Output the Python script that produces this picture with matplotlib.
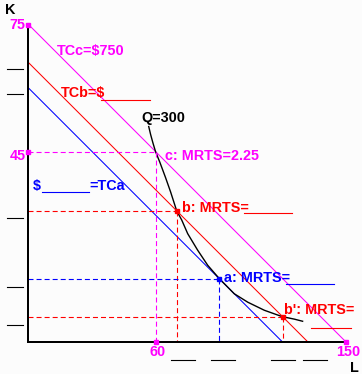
import matplotlib
matplotlib.use("Agg")
import matplotlib.pyplot as plt
from matplotlib.lines import Line2D

plt.rcParams['font.family'] = ['Liberation Sans', 'DejaVu Sans']
plt.rcParams['lines.scale_dashes'] = False

# ---------------- data ----------------
L_MAX, K_MAX = 150, 75
# budget (isocost) lines: (K intercept, L intercept)
tc_names = ["TCa", "TCb", "TCc"]
tc_k_int = [60, 66, 75]
tc_l_int = [120, 132, 150]

# isoquant Q=300
iso_L = [56.8, 57.7, 58.8, 60.0, 62.1, 64.7, 67.1, 70.0, 72.4, 75.2, 79.9,
         84.7, 90.1, 97.2, 103.6, 111.4, 119.8, 125.6, 129.5]
iso_K = [50.9, 49.0, 47.0, 45.0, 42.4, 38.9, 35.5, 31.0, 28.8, 25.6, 21.7,
         18.1, 15.0, 11.4, 9.4, 7.5, 6.0, 5.4, 4.9]

# labelled points
pt_names = ["c", "b", "a", "b'"]
pt_L = [60, 70, 90, 120]
pt_K = [45, 31, 15, 6]

axis_marks_L = [60, 150]
axis_marks_K = [45, 75]

# ---------------- style ----------------
MAG, RED, BLUE, BLK = '#ff00ff', '#ff0000', '#0000ff', '#000000'
tc_colors = [BLUE, RED, MAG]
pt_colors = [MAG, RED, BLUE, RED]
W, H = 362, 374
FS = 10.4

fig = plt.figure(figsize=(W / 100, H / 100), dpi=100, facecolor='#fcfcfc')
ax = fig.add_axes([28.5 / W, 32 / H, 317.5 / W, 317.5 / H])
ax.set_facecolor('#fcfcfc')
ax.set_xlim(0, L_MAX)
ax.set_ylim(0, K_MAX)
for s in ['top', 'right']:
    ax.spines[s].set_visible(False)
for s in ['left', 'bottom']:
    ax.spines[s].set_linewidth(1.44)
ax.set_xticks([])
ax.set_yticks([])

# isocost lines
for k0, l0, c in zip(tc_k_int, tc_l_int, tc_colors):
    ax.plot([0, l0], [k0, 0], color=c, lw=0.75, clip_on=False)

# isoquant
ax.plot(iso_L, iso_K, color=BLK, lw=1.0)

# dashed guides and point markers
dash = (0, (3.6, 2.2))
for l, k, c in zip(pt_L, pt_K, pt_colors):
    ax.plot([0, l], [k, k], color=c, lw=0.8, linestyle=dash)
    ax.plot([l, l], [k, 0], color=c, lw=0.8, linestyle=dash)
    if c != MAG:
        ax.plot([l], [k], marker='s', ms=2.6, color=c, mec=c, clip_on=False,
                zorder=4)

# markers on axes
for l in axis_marks_L:
    ax.plot([l], [0], marker='s', ms=2.6, color=MAG, mec=MAG, clip_on=False,
            zorder=5)
for k in axis_marks_K:
    ax.plot([0], [k], marker='s', ms=2.6, color=MAG, mec=MAG, clip_on=False,
            zorder=5)


def ftext(x, y, s, color, ha='left'):
    fig.text(x / W, 1 - y / H, s, color=color, fontsize=FS, fontweight='bold',
             ha=ha, va='baseline')


def fline(x0, x1, y, color):
    fig.add_artist(Line2D([x0 / W, x1 / W], [1 - y / H, 1 - y / H],
                          color=color, lw=0.8))


# axis titles and numbers
ftext(4.5, 14, "K", BLK)
ftext(350, 371.5, "L", BLK)
ftext(25.5, 29, str(axis_marks_K[1]), MAG, ha='right')
ftext(25.5, 160, str(axis_marks_K[0]), MAG, ha='right')
ftext(158, 356.5, str(axis_marks_L[0]), MAG, ha='center')
ftext(348, 356.5, str(axis_marks_L[1]), MAG, ha='center')

# line labels
ftext(56.5, 55, "TCc=$750", MAG)
ftext(60.5, 97, "TCb=$", RED)
fline(101, 150, 99.5, RED)
ftext(33, 190, "$", BLUE)
fline(41.7, 89, 192.5, BLUE)
ftext(89.5, 190, "=TCa", BLUE)
ftext(141, 121.5, "Q=300", BLK)

# point labels
ftext(165, 160, "c: MRTS=2.25", MAG)
ftext(181.5, 212, "b: MRTS=", RED)
fline(244, 292, 213.5, RED)
ftext(223.5, 282, "a: MRTS=", BLUE)
fline(286, 333.7, 283.5, BLUE)
ftext(283.5, 313.5, "b': MRTS=", RED)
fline(311, 351, 327.5, RED)

# blank answer slots on the axes
for y in [68.5, 93.5, 217.5, 286.5, 324.5]:
    fline(7, 23, y, BLK)
for x0, x1 in [(171, 195), (211, 235), (271, 295), (303, 327)]:
    fline(x0, x1, 359.5, BLK)

fig.savefig("out.png", dpi=100, facecolor=fig.get_facecolor())
